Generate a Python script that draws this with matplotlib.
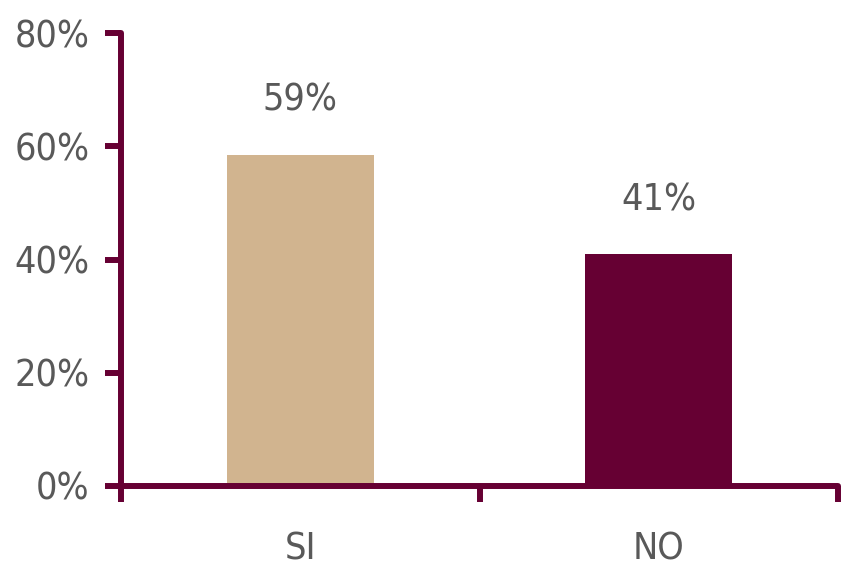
import matplotlib
matplotlib.use("Agg")
import matplotlib.pyplot as plt
from matplotlib import font_manager

categories = ["SI", "NO"]
values = [58.5, 41.0]
labels = ["59%", "41%"]
yticks = [0, 20, 40, 60, 80]
ytick_labels = ["0%", "20%", "40%", "60%", "80%"]
colors = ["#D1B48F", "#660033"]

plt.rcParams['font.family'] = ["DejaVu Sans"]
plt.rcParams['font.stretch'] = "condensed"

axc = "#660033"
tc = "#595959"
fs = 27

fig = plt.figure(figsize=(8.43, 5.70), dpi=100)
ax = fig.add_axes([121/843, 84/570, (838-121)/843, (537-84)/570])
x = list(range(len(categories)))
bars = ax.bar(x, values, width=0.41, color=colors, zorder=2)
ax.set_xlim(-0.5, 1.5)
ax.set_ylim(0, 80)
for xi, v, lb in zip(x, values, labels):
    ax.text(xi, v + 9.5, lb, ha="center", va="center", fontsize=fs, color=tc,
            fontstretch="condensed")

ax.set_yticks(yticks)
ax.set_yticklabels(ytick_labels, fontsize=fs, color=tc, fontstretch="condensed")
ax.set_xticks([-0.5, 0.5, 1.5])
ax.set_xticklabels([])
ax.set_xticks(x, minor=True)
ax.set_xticklabels(categories, minor=True, fontsize=fs, color=tc, fontstretch="condensed")
ax.tick_params(axis="x", which="minor", length=0, pad=33)
ax.tick_params(axis="x", which="major", length=11.5, width=4.3, color=axc, direction="out")
ax.tick_params(axis="y", length=11.5, width=4.3, color=axc, pad=11)
for s in ["top", "right"]:
    ax.spines[s].set_visible(False)
for s in ["left", "bottom"]:
    ax.spines[s].set_color(axc)
    ax.spines[s].set_linewidth(4.3)
    ax.spines[s].set_capstyle("round")
for t in ax.get_xticklines() + ax.get_yticklines():
    t.set_solid_capstyle("round")
fig.savefig("out.png", dpi=100)
